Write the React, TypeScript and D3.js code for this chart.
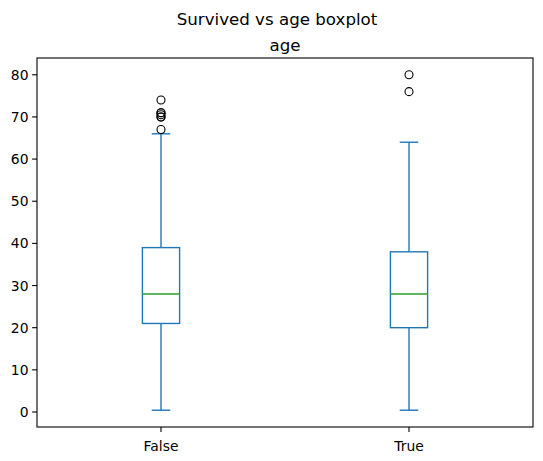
import React from "react";
import * as d3 from "d3";

const categories = ["False", "True"];
const q1 = [21, 20];
const medians = [28, 28];
const q3 = [39, 38];
const whiskerLow = [0.42, 0.42];
const whiskerHigh = [66, 64];
const outliers = [
  [74, 71, 71, 70.5, 70, 70, 67],
  [80, 76],
];
const yTicks = [0, 10, 20, 30, 40, 50, 60, 70, 80];
const suptitle = "Survived vs age boxplot";
const axTitle = "age";

const W = 543;
const H = 461;
const left = 37;
const right = 533;
const top = 58;
const bottom = 427;
const blue = "#1f77b4";
const green = "#2ca02c";
const font = "DejaVu Sans, sans-serif";

export default function App() {
  const allVals = [...whiskerLow, ...whiskerHigh, ...outliers.flat()];
  const lo = d3.min(allVals) as number;
  const hi = d3.max(allVals) as number;
  const pad = (hi - lo) * 0.05;
  const y = d3.scaleLinear().domain([lo - pad, hi + pad]).range([bottom, top]);
  const x = d3.scaleLinear().domain([0.5, 2.5]).range([left, right]);
  const unit = x(1) - x(0);
  const boxW = 0.15 * unit;
  const capW = 0.075 * unit;

  return (
    <svg width={W} height={H} style={{ position: "absolute", left: 0, top: 0 }}>
      <rect x={0} y={0} width={W} height={H} fill="white" />
      <text x={277} y={25} textAnchor="middle" fontFamily={font} fontSize={16.67} fill="#000">
        {suptitle}
      </text>
      <text x={(left + right) / 2} y={51} textAnchor="middle" fontFamily={font} fontSize={16.67} fill="#000">
        {axTitle}
      </text>
      {categories.map((c, i) => {
        const cx = x(i + 1);
        return (
          <g key={c}>
            <line x1={cx} x2={cx} y1={y(q1[i])} y2={y(whiskerLow[i])} stroke={blue} strokeWidth={1.39} />
            <line x1={cx} x2={cx} y1={y(q3[i])} y2={y(whiskerHigh[i])} stroke={blue} strokeWidth={1.39} />
            <line x1={cx - capW / 2} x2={cx + capW / 2} y1={y(whiskerLow[i])} y2={y(whiskerLow[i])} stroke={blue} strokeWidth={1.39} />
            <line x1={cx - capW / 2} x2={cx + capW / 2} y1={y(whiskerHigh[i])} y2={y(whiskerHigh[i])} stroke={blue} strokeWidth={1.39} />
            <rect
              x={cx - boxW / 2}
              y={y(q3[i])}
              width={boxW}
              height={y(q1[i]) - y(q3[i])}
              fill="none"
              stroke={blue}
              strokeWidth={1.39}
            />
            <line x1={cx - boxW / 2} x2={cx + boxW / 2} y1={y(medians[i])} y2={y(medians[i])} stroke={green} strokeWidth={1.39} />
            {outliers[i].map((v, j) => (
              <circle key={j} cx={cx} cy={y(v)} r={4} fill="none" stroke="#000" strokeWidth={1.1} />
            ))}
            <line x1={cx} x2={cx} y1={bottom} y2={bottom + 4.9} stroke="#000" strokeWidth={1.1} />
            <text x={cx} y={451} textAnchor="middle" fontFamily={font} fontSize={13.9} fill="#000">
              {c}
            </text>
          </g>
        );
      })}
      {yTicks.map((t) => (
        <g key={t}>
          <line x1={left - 4.9} x2={left} y1={y(t)} y2={y(t)} stroke="#000" strokeWidth={1.1} />
          <text
            x={left - 8.5}
            y={y(t)}
            dy="0.36em"
            textAnchor="end"
            fontFamily={font}
            fontSize={13.9}
            fill="#000"
          >
            {t}
          </text>
        </g>
      ))}
      <rect x={left} y={top} width={right - left} height={bottom - top} fill="none" stroke="#000" strokeWidth={1.1} />
    </svg>
  );
}
